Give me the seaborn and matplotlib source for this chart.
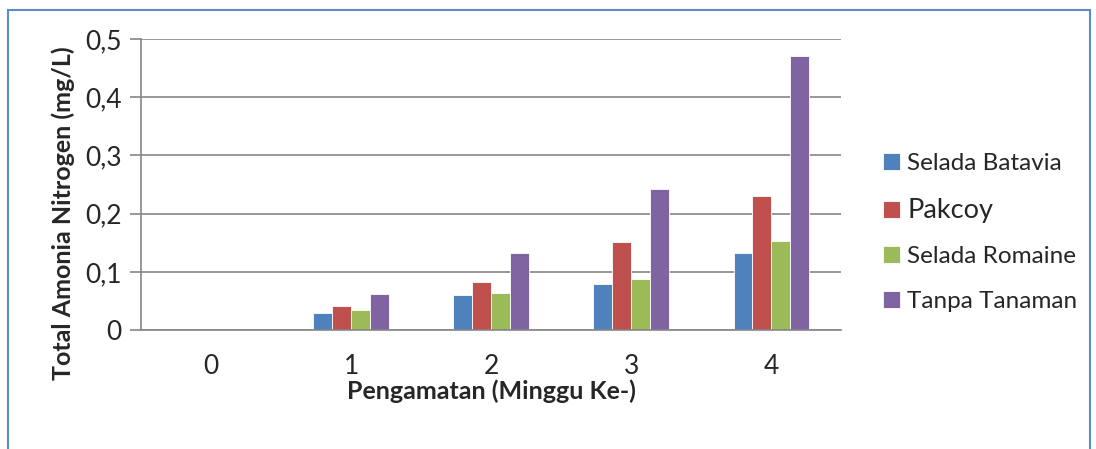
import pandas as pd
import seaborn as sns
import matplotlib.pyplot as plt
from matplotlib.patches import Rectangle
from matplotlib.ticker import FuncFormatter

minggu = ["0", "1", "2", "3", "4"]
selada_batavia = [0, 0.030, 0.061, 0.079, 0.132]
pakcoy = [0, 0.041, 0.082, 0.152, 0.231]
selada_romaine = [0, 0.035, 0.064, 0.088, 0.153]
tanpa_tanaman = [0, 0.062, 0.132, 0.242, 0.471]

series = ["Selada Batavia", "Pakcoy", "Selada Romaine", "Tanpa Tanaman"]
colors = ["#4F81BD", "#C0504D", "#9BBB59", "#8064A2"]

df = pd.DataFrame({
    "minggu": minggu * 4,
    "nilai": selada_batavia + pakcoy + selada_romaine + tanpa_tanaman,
    "seri": [s for s in series for _ in minggu],
})

sns.set_style("white")
plt.rcParams["font.family"] = ["Lato", "DejaVu Sans"]

fig = plt.figure(figsize=(10.96, 4.49), dpi=100)
ax = fig.add_axes([0.1287, 0.265, 0.639, 0.648])

sns.barplot(data=df, x="minggu", y="nilai", hue="seri", hue_order=series,
            palette=colors, width=0.54, edgecolor="white", linewidth=0.6,
            saturation=1, ax=ax)

ax.set_ylim(0, 0.5)
ax.set_xlim(-0.5, 4.5)
ax.set_yticks([0, 0.1, 0.2, 0.3, 0.4, 0.5])
ax.yaxis.set_major_formatter(FuncFormatter(lambda v, p: "0" if v == 0 else f"{v:.1f}".replace(".", ",")))
ax.grid(axis="y", color="#868686", linewidth=1.2)
ax.set_axisbelow(True)
for s in ["top", "right"]:
    ax.spines[s].set_visible(False)
for s in ["left", "bottom"]:
    ax.spines[s].set_color("#868686")
    ax.spines[s].set_linewidth(1.2)
ax.tick_params(axis="y", left=True, length=8, width=1.2, color="#868686", labelsize=19, pad=6)
ax.tick_params(axis="x", bottom=False, labelsize=19, pad=14)

ax.set_xlabel("Pengamatan (Minggu Ke-)", fontsize=18, fontweight="bold", labelpad=0)
ax.set_ylabel("Total Amonia Nitrogen (mg/L)", fontsize=18, fontweight="bold")
ax.yaxis.set_label_coords(-0.095, 0.40)

leg = ax.legend(loc="center left", bbox_to_anchor=(1.028, 0.335), frameon=False, fontsize=17.5,
                handlelength=0.7, handleheight=0.7, handletextpad=0.3, labelspacing=0.98)
leg.get_texts()[1].set_fontsize(19.5)

fig.patches.append(Rectangle((0.0075, -0.05), 0.987, 1.028, transform=fig.transFigure,
                             fill=False, edgecolor="#5B8CCB", linewidth=1.5))

fig.savefig("out.png", dpi=100)
